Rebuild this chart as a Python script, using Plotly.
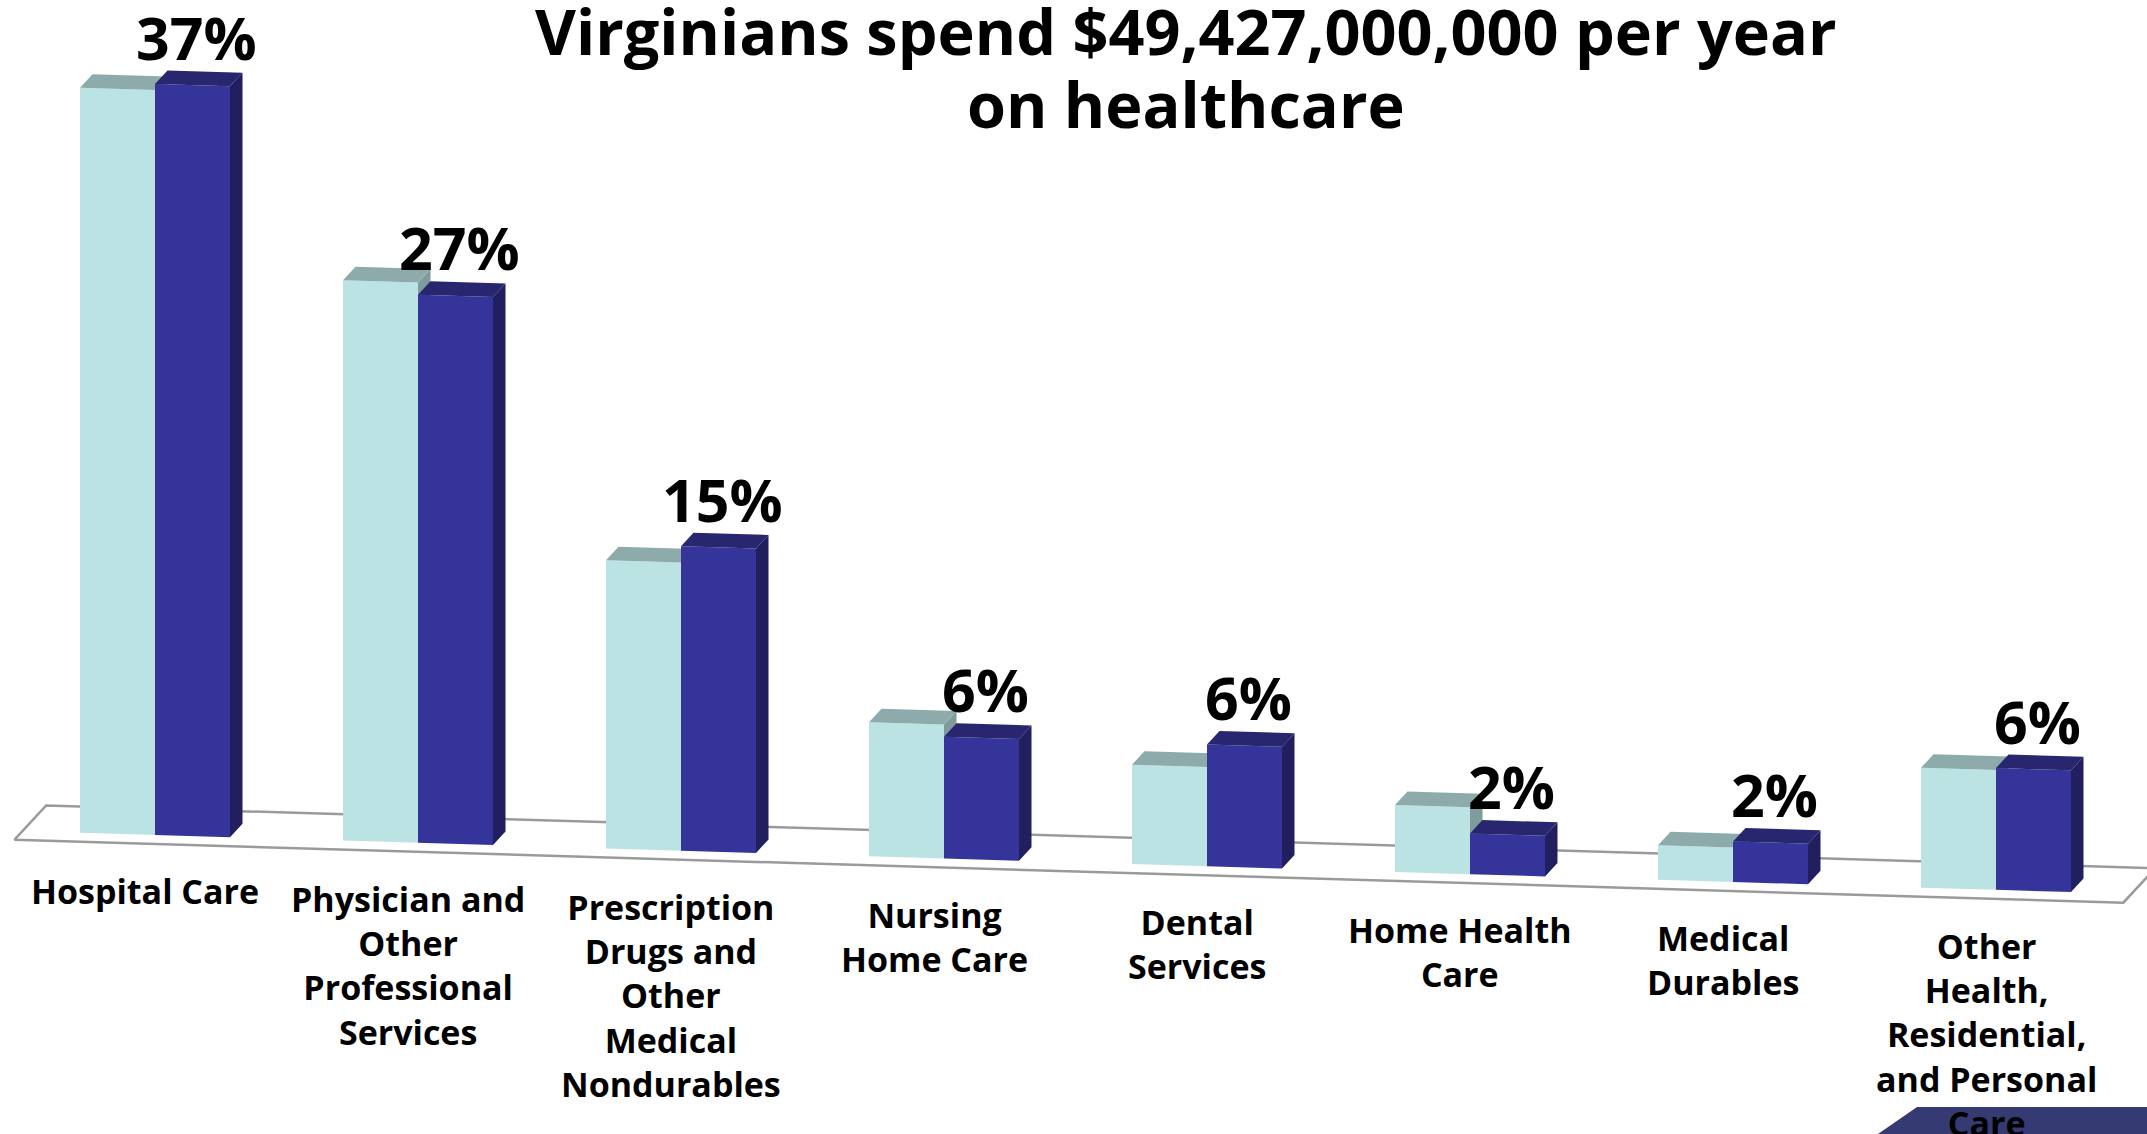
import plotly.graph_objects as go

# ---- data -------------------------------------------------------------
categories = [
    "Hospital Care",
    "Physician and<br>Other<br>Professional<br>Services",
    "Prescription<br>Drugs and<br>Other<br>Medical<br>Nondurables",
    "Nursing<br>Home Care",
    "Dental<br>Services",
    "Home Health<br>Care",
    "Medical<br>Durables",
    "Other<br>Health,<br>Residential,<br>and Personal<br>Care",
]
share_virginia = [37, 27, 15, 6, 6, 2, 2, 6]                  # dark series (labelled)
share_comparison = [36.7, 27.6, 14.2, 6.6, 4.9, 3.3, 1.7, 5.9]  # light series
value_labels = [f"{v}%" for v in share_virginia]

title_lines = ["Virginians spend $49,427,000,000 per year", "on healthcare"]

# ---- geometry of the oblique 3-D projection -------------------------
W, H = 2147, 1134
CAT_PX = 263.0          # pixels per category step
PCT_PX = 20.3           # pixels per percentage point
ORIGIN_X = 155.0        # pixel x of first category centre
ORIGIN_Y = 835.0        # pixel y of the floor at that point
SLOPE = 0.0298 * CAT_PX / PCT_PX   # floor tilt, in % per category
BW = 75.0 / CAT_PX      # width of one bar front face
DX = 12.5 / CAT_PX      # depth vector, x component
DY = 13.5 / PCT_PX      # depth vector, y component

X_RANGE = [-ORIGIN_X / CAT_PX, (W - ORIGIN_X) / CAT_PX]
Y_RANGE = [(ORIGIN_Y - H) / PCT_PX, ORIGIN_Y / PCT_PX]


def base(x):
    return -SLOPE * x


def faces(x0, x1, v):
    b0, b1 = base(x0), base(x1)
    front = [(x0, b0), (x1, b1), (x1, b1 + v), (x0, b0 + v)]
    top = [(x0, b0 + v), (x1, b1 + v), (x1 + DX, b1 + v + DY), (x0 + DX, b0 + v + DY)]
    side = [(x1, b1), (x1, b1 + v), (x1 + DX, b1 + v + DY), (x1 + DX, b1 + DY)]
    return front, top, side


def poly_trace(polys, color):
    xs, ys = [], []
    for p in polys:
        xs += [q[0] for q in p] + [p[0][0], None]
        ys += [q[1] for q in p] + [p[0][1], None]
    return go.Scatter(x=xs, y=ys, mode="lines", fill="toself", fillcolor=color,
                      line=dict(width=0, color=color), hoverinfo="skip",
                      showlegend=False)


fig = go.Figure()

# floor plate
FLOOR_L, FLOOR_R = -0.504, 7.515
F_FRONT, F_BACK = -0.65, 1.9
floor_pts = [
    (FLOOR_L + F_FRONT * DX, base(FLOOR_L) + F_FRONT * DY),
    (FLOOR_R + F_FRONT * DX, base(FLOOR_R) + F_FRONT * DY),
    (FLOOR_R + F_BACK * DX, base(FLOOR_R) + F_BACK * DY),
    (FLOOR_L + F_BACK * DX, base(FLOOR_L) + F_BACK * DY),
]
fig.add_trace(go.Scatter(
    x=[p[0] for p in floor_pts] + [floor_pts[0][0]],
    y=[p[1] for p in floor_pts] + [floor_pts[0][1]],
    mode="lines", line=dict(color="#9a9a9a", width=2.5),
    fill="toself", fillcolor="white", hoverinfo="skip", showlegend=False))

# bars: light series left of each centre, dark series right of it
light_parts = [faces(i - BW, i, v) for i, v in enumerate(share_comparison)]
dark_parts = [faces(i, i + BW, v) for i, v in enumerate(share_virginia)]

fig.add_trace(poly_trace([p[2] for p in light_parts], "#7f9b9c"))
fig.add_trace(poly_trace([p[0] for p in light_parts], "#bce3e4"))
fig.add_trace(poly_trace([p[1] for p in light_parts], "#8eabac"))
fig.add_trace(poly_trace([p[0] for p in dark_parts], "#34349a"))
fig.add_trace(poly_trace([p[1] for p in dark_parts], "#27266f"))
fig.add_trace(poly_trace([p[2] for p in dark_parts], "#221f60"))

annotations = []
FONT = "Open Sans"

# value labels above the dark bars
for i, (v, lab) in enumerate(zip(share_virginia, value_labels)):
    x = i + BW / 2 + DX * 0.3
    y = base(i + BW) + v + DY
    annotations.append(dict(
        x=x, y=y, xref="x", yref="y", text=lab, showarrow=False,
        xanchor="center", yanchor="middle", yshift=36,
        font=dict(family=FONT, size=59, color="black", weight=700)))

# category labels under the floor
for i, cat in enumerate(categories):
    x = i - 0.038
    annotations.append(dict(
        x=x, y=base(i), xref="x", yref="y", text=cat, showarrow=False,
        xanchor="center", yanchor="top", yshift=-31, align="center",
        font=dict(family=FONT, size=34, color="black", weight=700)))

# two-line title
for text, baseline in zip(title_lines, [54, 127]):
    annotations.append(dict(
        x=1186 / W, y=1 - (baseline - 24) / H, xref="paper", yref="paper",
        text=text, showarrow=False, xanchor="center", yanchor="middle",
        font=dict(family=FONT, size=63, color="black", weight=700)))

fig.update_layout(
    width=W, height=H,
    margin=dict(l=0, r=0, t=0, b=0),
    paper_bgcolor="white", plot_bgcolor="white",
    xaxis=dict(range=X_RANGE, visible=False, fixedrange=True),
    yaxis=dict(range=Y_RANGE, visible=False, fixedrange=True),
    annotations=annotations,
    shapes=[dict(
        type="path", xref="paper", yref="paper",
        path=(f"M {1917 / W} {1 - 1107 / H} L 1 {1 - 1107 / H} "
              f"L 1 0 L {1878 / W} 0 Z"),
        fillcolor="#353a73", line=dict(width=0), layer="below")],
)

fig.write_html("out.html")
